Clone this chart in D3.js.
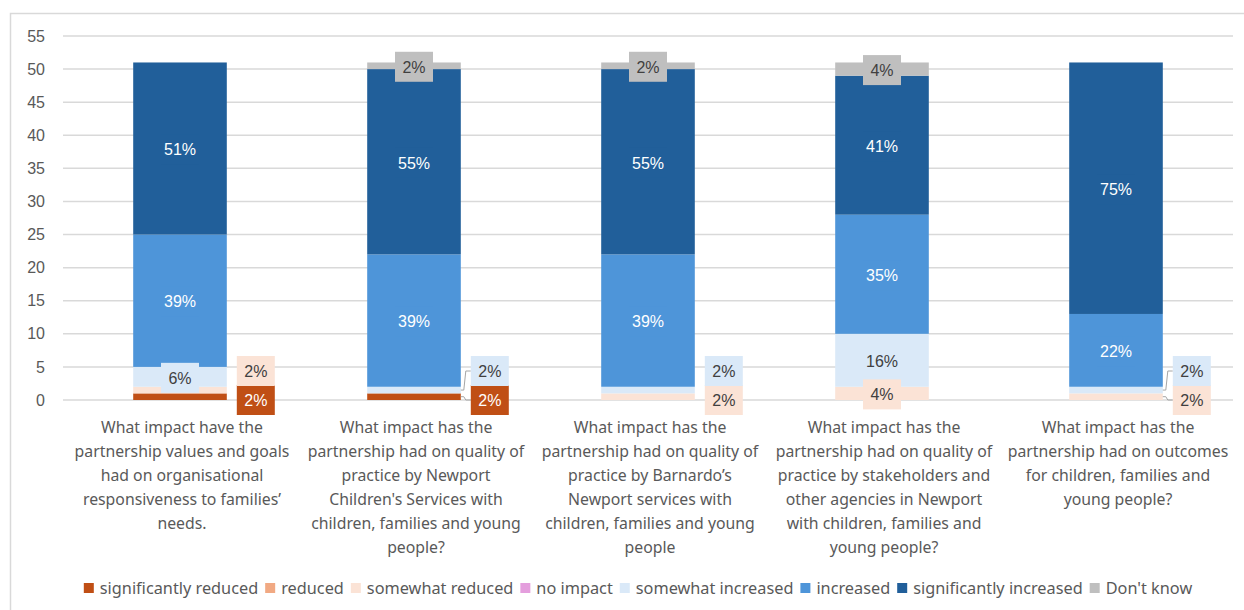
<!DOCTYPE html>
<html>
<head>
<meta charset="utf-8">
<script src="https://cdn.jsdelivr.net/npm/d3@7"></script>
<style>
  html, body { margin: 0; padding: 0; background: #fff; }
  svg { display: block; }
</style>
</head>
<body>
<svg id="chart" width="1244" height="610"></svg>
<script>
// ---- data ----
const categories = [
  "What impact have the\npartnership values and goals\nhad on organisational\nresponsiveness to families’\nneeds.",
  "What impact has the\npartnership had on quality of\npractice by Newport\nChildren's Services with\nchildren, families and young\npeople?",
  "What impact has the\npartnership had on quality of\npractice by Barnardo’s\nNewport services with\nchildren, families and young\npeople",
  "What impact has the\npartnership had on quality of\npractice by stakeholders and\nother agencies in Newport\nwith children, families and\nyoung people?",
  "What impact has the\npartnership had on outcomes\nfor children, families and\nyoung people?"
];

const seriesNames = ["significantly reduced", "reduced", "somewhat reduced", "no impact",
  "somewhat increased", "increased", "significantly increased", "Don't know"];

const sigReduced        = [1, 1, 0, 0, 0];
const reduced           = [0, 0, 0, 0, 0];
const somewhatReduced   = [1, 0, 1, 2, 1];
const noImpact          = [0, 0, 0, 0, 0];
const somewhatIncreased = [3, 1, 1, 8, 1];
const increased         = [20, 20, 20, 18, 11];
const sigIncreased      = [26, 28, 28, 21, 38];
const dontKnow          = [0, 1, 1, 2, 0];

const yTicks = [0, 5, 10, 15, 20, 25, 30, 35, 40, 45, 50, 55];

const colors = ["#C04F15", "#F1A983", "#FBE3D6", "#E49EDD", "#DAE9F8", "#4E95D9", "#215F9A", "#BFBFBF"];
const labelColors = ["#fff", "#404040", "#404040", "#404040", "#404040", "#fff", "#fff", "#404040"];

// ---- build table ----
const seriesValues = [sigReduced, reduced, somewhatReduced, noImpact, somewhatIncreased, increased, sigIncreased, dontKnow];
const table = categories.map((c, i) => {
  const row = { cat: c, idx: i };
  seriesNames.forEach((s, j) => row[s] = seriesValues[j][i]);
  return row;
});
const totals = categories.map((c, i) => d3.sum(seriesValues, s => s[i]));

const svg = d3.select("#chart");
const margin = { left: 63, right: 11, top: 36, bottom: 210 };
const W = 1244, H = 610;
const plotW = W - margin.left - margin.right;

// outer chart border
svg.append("rect")
  .attr("x", 10.5).attr("y", 13.5).attr("width", 1300).attr("height", 700)
  .attr("fill", "none").attr("stroke", "#D9D9D9").attr("stroke-width", 1.5);

const x = d3.scaleBand().domain(d3.range(categories.length))
  .range([margin.left, margin.left + plotW])
  .paddingInner(0.6).paddingOuter(0.3);
const y = d3.scaleLinear().domain([0, 55]).range([400, 36]);

// gridlines
svg.append("g").selectAll("line")
  .data(yTicks)
  .enter().append("line")
  .attr("x1", margin.left).attr("x2", margin.left + plotW)
  .attr("y1", d => y(d)).attr("y2", d => y(d))
  .attr("stroke", "#D9D9D9").attr("stroke-width", 1.5);

// y axis labels
const yAxis = svg.append("g")
  .attr("transform", `translate(${margin.left},0)`)
  .call(d3.axisLeft(y).tickValues(yTicks).tickSize(0).tickPadding(18));
yAxis.select(".domain").remove();
yAxis.selectAll("text")
  .attr("fill", "#595959").attr("font-size", 16)
  .attr("font-family", "'Liberation Sans', Arial, sans-serif");

// stacked bars
const stack = d3.stack().keys(seriesNames);
const layers = stack(table);

const layerG = svg.append("g").selectAll("g")
  .data(layers)
  .enter().append("g")
  .attr("fill", (d, i) => colors[i]);

layerG.selectAll("rect")
  .data(d => d)
  .enter().append("rect")
  .attr("x", d => x(d.data.idx))
  .attr("width", x.bandwidth())
  .attr("y", d => y(d[1]))
  .attr("height", d => y(d[0]) - y(d[1]));

// data labels
const labels = [];
const outsideCount = categories.map(() => 0);
layers.forEach((layer, si) => {
  layer.forEach(d => {
    const v = d[1] - d[0];
    if (v <= 0) return;
    const ci = d.data.idx;
    const text = Math.round(v / totals[ci] * 100) + "%";
    const mid = y((d[0] + d[1]) / 2);
    const barRight = x(ci) + x.bandwidth();
    if (v <= 1 && si < seriesNames.length - 1) {
      const slot = outsideCount[ci]++;
      labels.push({ si, ci, text, cx: barRight + 10 + 19, cy: y(0) - slot * 29, outside: true, mid, barRight });
    } else {
      labels.push({ si, ci, text, cx: x(ci) + x.bandwidth() / 2, cy: mid + 1, outside: false });
    }
  });
});

// leader lines (bars where Excel draws them)
const leaderBars = [1, 4];
svg.append("g").selectAll("path")
  .data(labels.filter(l => l.outside && leaderBars.includes(l.ci)))
  .enter().append("path")
  .attr("d", l => `M${l.barRight},${l.mid}L${l.barRight + 3},${l.mid}L${l.barRight + 5},${l.cy}L${l.cx - 19},${l.cy}`)
  .attr("fill", "none").attr("stroke", "#A6A6A6").attr("stroke-width", 1);

const lg = svg.append("g").selectAll("g")
  .data(labels)
  .enter().append("g")
  .attr("transform", l => `translate(${l.cx},${l.cy})`);

lg.append("rect")
  .attr("x", -19).attr("y", -15).attr("width", 38).attr("height", 30)
  .attr("fill", l => colors[l.si]);

lg.append("text")
  .attr("text-anchor", "middle").attr("dy", "0.36em")
  .attr("font-family", "'Liberation Sans', Arial, sans-serif")
  .attr("font-size", 16)
  .attr("fill", l => labelColors[l.si])
  .text(l => l.text);

// category labels
const catG = svg.append("g").selectAll("text")
  .data(categories)
  .enter().append("text")
  .attr("x", (d, i) => x(i) + x.bandwidth() / 2 + 2)
  .attr("y", 427)
  .attr("text-anchor", "middle")
  .attr("font-family", "'Noto Sans', sans-serif")
  .attr("font-size", 15.8)
  .attr("fill", "#595959");
catG.each(function (d) {
  const t = d3.select(this);
  d.split("\n").forEach((line, k) => {
    t.append("tspan")
      .attr("x", t.attr("x"))
      .attr("dy", k === 0 ? "0.35em" : 24)
      .text(line);
  });
});

// legend
const legend = svg.append("g").attr("transform", "translate(0,588)");
const items = legend.selectAll("g")
  .data(seriesNames)
  .enter().append("g");
items.append("rect")
  .attr("x", 0).attr("y", -5).attr("width", 10).attr("height", 10)
  .attr("fill", (d, i) => colors[i]);
items.append("text")
  .attr("x", 16).attr("dy", "0.35em")
  .attr("font-family", "'Noto Sans', sans-serif")
  .attr("font-size", 16.3)
  .attr("fill", "#595959")
  .text(d => d);

let offsets = [], cur = 0;
items.each(function () {
  const w = 16 + this.querySelector("text").getComputedTextLength();
  offsets.push(cur);
  cur += w + 7;
});
const totalW = cur - 7;
const startX = 638 - totalW / 2;
items.attr("transform", (d, i) => `translate(${startX + offsets[i]},0)`);
</script>
</body>
</html>
